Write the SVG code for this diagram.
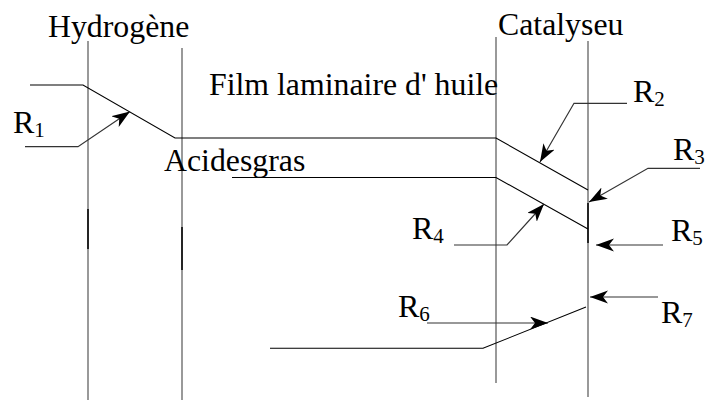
<svg xmlns="http://www.w3.org/2000/svg" width="707" height="401" viewBox="0 0 707 401">
<style>
text{font-family:"Liberation Serif","Times New Roman",serif;fill:#000}
.t{font-size:31.8px}
.r{font-size:32px}
.s{font-size:21px}
.v{stroke:#777;stroke-width:1.5;fill:none}
.vd{stroke:#111;stroke-width:1.7;fill:none}
.f{stroke:#000;stroke-width:1.1;fill:none}
.a{stroke:#333;stroke-width:1.2;fill:none;marker-end:url(#ah)}
</style>
<defs>
<marker id="ah" markerUnits="userSpaceOnUse" markerWidth="22" markerHeight="16" refX="18" refY="6.5" orient="auto">
<path d="M0,0 L18,6.5 L0,13 L5,6.5 z" fill="#000"/>
</marker>
</defs>
<g id="walls">
<line class="v" x1="88" y1="41" x2="88" y2="400"/>
<line class="v" x1="182" y1="48" x2="182" y2="400"/>
<line class="v" x1="496" y1="37" x2="496" y2="383"/>
<line class="v" x1="588" y1="41" x2="588" y2="397"/>
<line class="vd" x1="88" y1="209" x2="88" y2="249"/>
<line class="vd" x1="182" y1="227" x2="182" y2="270"/>
<line class="vd" x1="588" y1="203" x2="588" y2="243"/>
</g>
<g id="profiles">
<path class="f" d="M30,85 H83 L175,138 H496 L588,190"/>
<path class="f" d="M232,177.5 H496 L588,229"/>
<path class="f" d="M270,348.3 H483 L586,307"/>
</g>
<g id="connectors">
<path class="a" d="M25,146.7 H78 L130,111.5"/>
<path class="a" d="M627,103.3 H574 L540,162"/>
<path class="a" d="M700,168.3 H648 L589,202"/>
<path class="a" d="M454,245 H507 L544,204"/>
<path class="a" d="M663,245 H596"/>
<path class="a" d="M427,323 H548"/>
<path class="a" d="M658,297 H590"/>
</g>
<g id="labels">
<text class="t" x="48" y="37">Hydrogène</text>
<text class="t" x="498" y="35">Catalyseu</text>
<text class="t" x="209" y="95">Film laminaire d' huile</text>
<text class="t" x="164" y="171">Acidesgras</text>
</g>
<g id="R1"><text class="r" x="13" y="133">R<tspan class="s" dy="4">1</tspan></text></g>
<g id="R2"><text class="r" x="633" y="102">R<tspan class="s" dy="4">2</tspan></text></g>
<g id="R3"><text class="r" x="673" y="160">R<tspan class="s" dy="4">3</tspan></text></g>
<g id="R4"><text class="r" x="412" y="239">R<tspan class="s" dy="4">4</tspan></text></g>
<g id="R5"><text class="r" x="671" y="241">R<tspan class="s" dy="4">5</tspan></text></g>
<g id="R6"><text class="r" x="398" y="317">R<tspan class="s" dy="4">6</tspan></text></g>
<g id="R7"><text class="r" x="661" y="323">R<tspan class="s" dy="4">7</tspan></text></g>
</svg>
